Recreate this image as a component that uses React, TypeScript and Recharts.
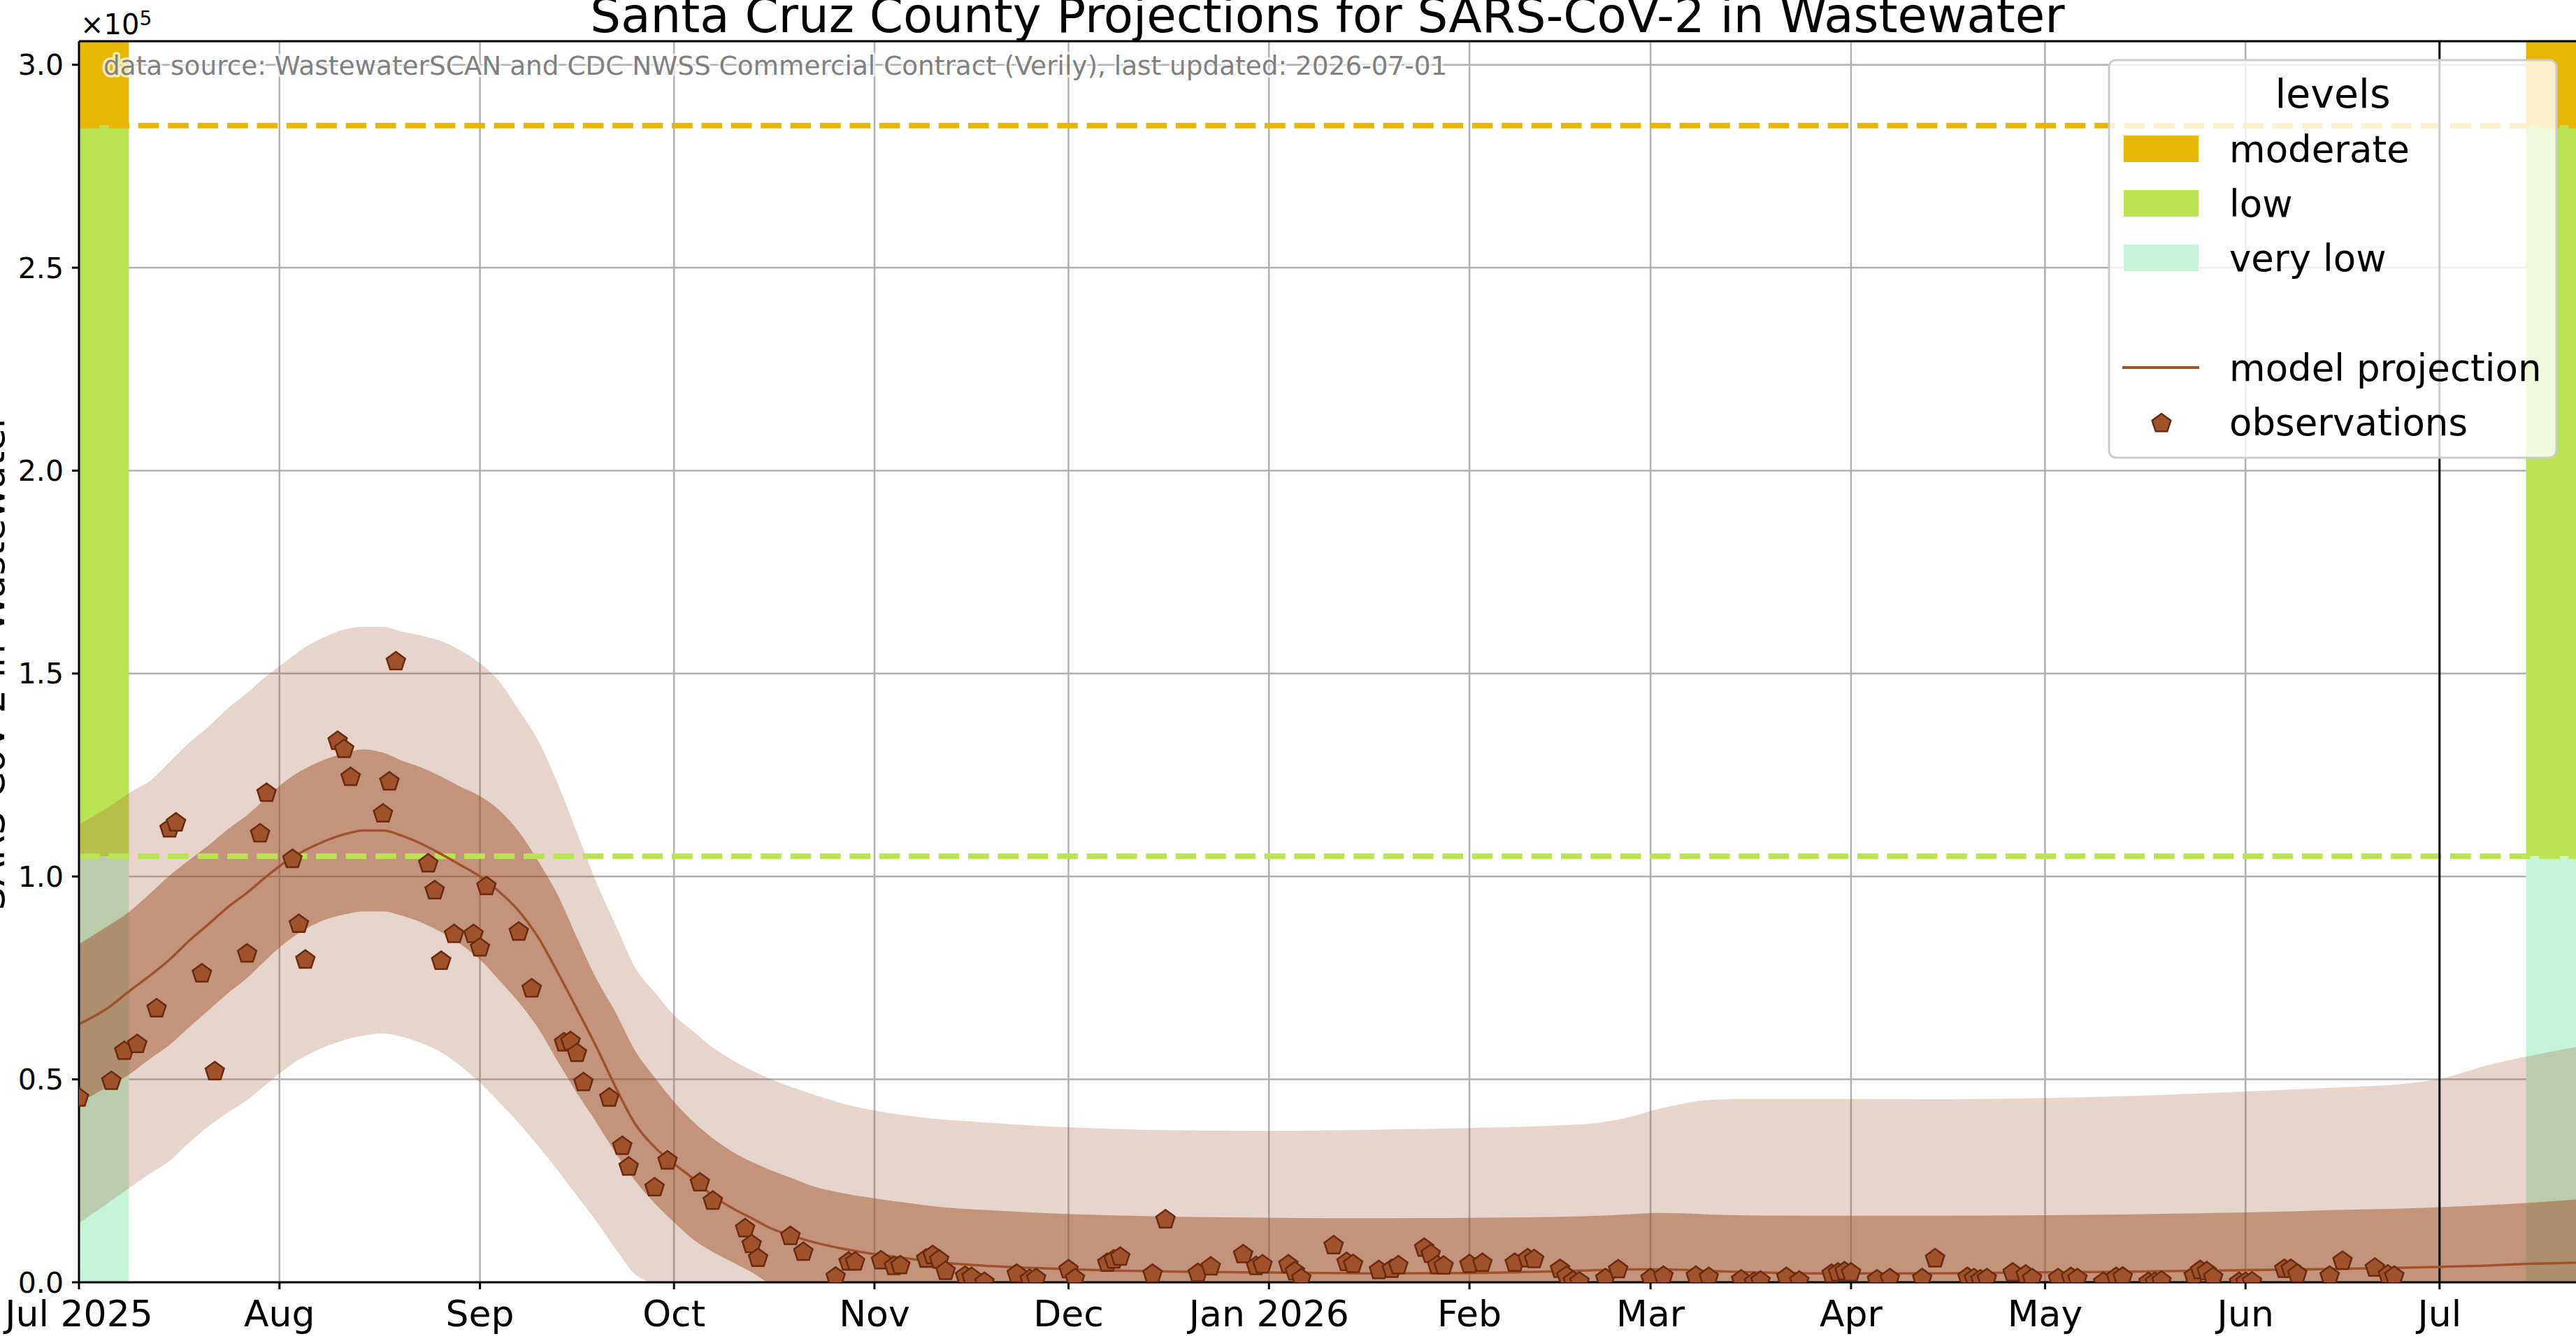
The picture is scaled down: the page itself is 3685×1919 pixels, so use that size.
import React from 'react';
import {
  ComposedChart,
  Area,
  Line,
  Scatter,
  XAxis,
  YAxis,
  CartesianGrid,
  ReferenceArea,
  ReferenceLine,
} from 'recharts';

const FONT = "'DejaVu Sans', sans-serif";
const W = 3685;
const H = 1919;

// ---- model projection (values in units of 10^5), x = days since 2025-07-01 ----
const modelDays = [
  0, 4, 8, 11, 14, 17, 20, 23, 26, 29, 32, 35, 38, 41, 44, 47, 50, 53, 56, 59, 62, 65, 68, 71, 74, 77, 80, 83, 86, 89,
  92, 95, 98, 101, 104, 107, 110, 114, 118, 122, 127, 133, 140, 150, 160, 172, 185, 200, 215, 228, 235, 240, 244, 248,
  252, 258, 270, 285, 300, 315, 335, 349, 360, 365, 372, 378, 386.1,
];
const median = [
  0.636, 0.671, 0.72, 0.756, 0.795, 0.841, 0.882, 0.924, 0.96, 1.0, 1.037, 1.065, 1.087, 1.104, 1.113, 1.113, 1.1, 1.08,
  1.055, 1.028, 1.0, 0.962, 0.915, 0.85, 0.764, 0.673, 0.58, 0.48, 0.39, 0.333, 0.292, 0.255, 0.213, 0.183, 0.158, 0.133,
  0.116, 0.097, 0.083, 0.072, 0.061, 0.049, 0.041, 0.034, 0.029, 0.026, 0.024, 0.022, 0.023, 0.027, 0.03, 0.032, 0.032,
  0.031, 0.028, 0.025, 0.022, 0.022, 0.024, 0.026, 0.03, 0.033, 0.036, 0.038, 0.041, 0.045, 0.048,
];
const lower50 = [
  0.443, 0.478, 0.515, 0.551, 0.585, 0.628, 0.67, 0.712, 0.75, 0.796, 0.838, 0.87, 0.893, 0.906, 0.914, 0.914, 0.903,
  0.886, 0.863, 0.833, 0.795, 0.744, 0.69, 0.626, 0.545, 0.466, 0.394, 0.318, 0.25, 0.195, 0.148, 0.105, 0.075, 0.05,
  0.025, 0, 0, 0, 0, 0, 0, 0, 0, 0, 0, 0, 0, 0, 0, 0, 0, 0, 0, 0, 0, 0, 0, 0, 0, 0, 0, 0, 0, 0, 0, 0, 0,
];
const upper50 = [
  0.833, 0.873, 0.916, 0.958, 1.002, 1.04, 1.076, 1.116, 1.151, 1.194, 1.236, 1.266, 1.288, 1.304, 1.313, 1.305, 1.285,
  1.268, 1.246, 1.221, 1.198, 1.163, 1.11, 1.038, 0.955, 0.849, 0.748, 0.664, 0.57, 0.505, 0.445, 0.395, 0.355, 0.322,
  0.297, 0.276, 0.258, 0.234, 0.22, 0.209, 0.198, 0.186, 0.178, 0.17, 0.165, 0.161, 0.159, 0.158, 0.159, 0.161, 0.164,
  0.168, 0.171, 0.17, 0.167, 0.165, 0.164, 0.164, 0.165, 0.167, 0.172, 0.178, 0.182, 0.185, 0.19, 0.195, 0.204,
];
const lower90 = [
  0.146, 0.19, 0.235, 0.268, 0.299, 0.344, 0.384, 0.418, 0.449, 0.488, 0.527, 0.558, 0.58, 0.597, 0.608, 0.613, 0.605,
  0.589, 0.567, 0.533, 0.492, 0.444, 0.392, 0.336, 0.276, 0.213, 0.15, 0.082, 0.02, 0, 0, 0, 0, 0, 0, 0, 0, 0, 0, 0, 0,
  0, 0, 0, 0, 0, 0, 0, 0, 0, 0, 0, 0, 0, 0, 0, 0, 0, 0, 0, 0, 0, 0, 0, 0, 0, 0,
];
const upper90 = [
  1.129, 1.165, 1.208, 1.236, 1.282, 1.329, 1.369, 1.414, 1.452, 1.494, 1.53, 1.565, 1.59, 1.608, 1.615, 1.615, 1.603,
  1.593, 1.58, 1.557, 1.525, 1.48, 1.41, 1.335, 1.23, 1.108, 0.985, 0.88, 0.775, 0.715, 0.658, 0.618, 0.578, 0.548,
  0.522, 0.5, 0.482, 0.46, 0.441, 0.426, 0.413, 0.402, 0.394, 0.384, 0.378, 0.374, 0.373, 0.376, 0.38, 0.386, 0.393,
  0.408, 0.426, 0.44, 0.449, 0.452, 0.452, 0.451, 0.453, 0.458, 0.47, 0.48, 0.49, 0.501, 0.533, 0.555, 0.58,
];

// ---- observations ----
const obsDays = [
  0, 5, 7, 9, 12, 14, 15, 19, 21, 26, 28, 29, 33, 34, 35, 40, 41, 42, 47, 48, 49, 54, 55, 56, 58, 61, 62, 63, 68, 70,
  75, 76, 77, 78, 82, 84, 85, 89, 91, 96, 98, 103, 104, 105, 110, 112, 117, 119, 120, 124, 126, 127, 131, 132, 133, 134,
  137, 138, 140, 145, 147, 148, 153, 154, 159, 160, 161, 166, 168, 173, 175, 180, 182, 183, 187, 188, 189, 194, 196, 197,
  201, 203, 204, 208, 209, 210, 211, 215, 217, 222, 224, 225, 229, 230, 231, 232, 236, 238, 243, 245, 250, 252, 257, 259,
  260, 264, 266, 271, 272, 273, 274, 278, 280, 285, 287, 292, 293, 294, 295, 299, 301, 302, 306, 308, 309, 313, 315, 316,
  320, 321, 322, 327, 328, 329, 330, 334, 335, 336, 341, 342, 343, 348, 350, 355, 357, 358,
];
const obsValues = [
  0.457, 0.498, 0.572, 0.589, 0.677, 1.12, 1.135, 0.763, 0.522, 0.812, 1.108, 1.208, 1.045, 0.885, 0.797, 1.336, 1.316,
  1.247, 1.157, 1.236, 1.532, 1.034, 0.968, 0.794, 0.86, 0.86, 0.827, 0.978, 0.866, 0.726, 0.593, 0.596, 0.567, 0.495,
  0.457, 0.338, 0.287, 0.236, 0.302, 0.248, 0.203, 0.135, 0.096, 0.062, 0.116, 0.077, 0.016, 0.053, 0.053, 0.056, 0.042,
  0.044, 0.06, 0.069, 0.058, 0.03, 0.018, 0.015, 0.003, 0.023, 0.01, 0.012, 0.034, 0.012, 0.05, 0.058, 0.065, 0.023,
  0.157, 0.025, 0.041, 0.071, 0.042, 0.046, 0.046, 0.029, 0.012, 0.093, 0.052, 0.047, 0.032, 0.035, 0.044, 0.087, 0.072,
  0.044, 0.043, 0.047, 0.05, 0.05, 0.061, 0.059, 0.035, 0.018, 0.006, 0.004, 0.012, 0.034, 0.012, 0.018, 0.018, 0.015,
  0.009, 0.003, 0.006, 0.015, 0.006, 0.023, 0.026, 0.029, 0.026, 0.009, 0.012, 0.012, 0.061, 0.015, 0.012, 0.009, 0.012,
  0.026, 0.021, 0.012, 0.012, 0.015, 0.012, 0.003, 0.015, 0.016, 0.003, 0.003, 0.006, 0.018, 0.032, 0.029, 0.015, 0.003,
  0.003, 0.004, 0.035, 0.035, 0.023, 0.018, 0.055, 0.038, 0.021, 0.018,
];

// ---- axes ----
const monthTicks = [0, 31, 62, 92, 123, 153, 184, 215, 243, 274, 304, 335, 365];
const monthLabels = ['Jul 2025', 'Aug', 'Sep', 'Oct', 'Nov', 'Dec', 'Jan 2026', 'Feb', 'Mar', 'Apr', 'May', 'Jun', 'Jul'];
const yTicks = [0, 0.5, 1.0, 1.5, 2.0, 2.5, 3.0];
const X_MAX = 386.1;
const Y_MAX = 3.058;
const TODAY = 365;

// ---- levels ----
const levelNames = ['moderate', 'low', 'very low'];
const levelColors = ['#E8B704', '#BBE453', '#C5F5D8'];
const levelLower = [2.85, 1.05, 0];
const levelUpper = [Y_MAX, 2.85, 1.05];
const thresholdValues = [2.85, 1.05];
const thresholdColors = ['#E8B704', '#BBE453'];
const BAND_W = 7.72;

const SIENNA = '#A0522D';
const EDGE = '#6B2A0E';

const modelData = modelDays.map((d, i) => ({
  day: d,
  median: median[i],
  band50: [lower50[i], upper50[i]],
  band90: [lower90[i], upper90[i]],
}));
const obsData = obsDays.map((d, i) => ({ day: d, value: obsValues[i] }));

function pentagonPoints(cx: number, cy: number, r: number) {
  const pts: string[] = [];
  for (let k = 0; k < 5; k++) {
    const a = ((-90 + k * 72) * Math.PI) / 180;
    pts.push(`${cx + r * Math.cos(a)},${cy + r * Math.sin(a)}`);
  }
  return pts.join(' ');
}

const Pentagon = (props: any) => {
  const { cx, cy } = props;
  if (cx == null || cy == null) return null;
  return <polygon points={pentagonPoints(cx, cy + 1.5, 14)} fill={SIENNA} stroke={EDGE} strokeWidth={2.5} />;
};

const Overlay = () => {
  const legendX = 3017;
  const legendY = 86;
  const patchX = 3038;
  const textX = 3189;
  const baselines = [232, 310, 388];
  return (
    <svg
      width={W}
      height={H}
      style={{ position: 'absolute', left: 0, top: 0, pointerEvents: 'none' }}
      fontFamily={FONT}
    >
      {/* top spine */}
      <line x1={113} y1={59} x2={W} y2={59} stroke="#000" strokeWidth={3} />
      {/* title */}
      <text x={1899} y={46} fontSize={69} textAnchor="middle" fill="#000">
        Santa Cruz County Projections for SARS-CoV-2 in Wastewater
      </text>
      {/* offset text */}
      <text x={115} y={49} fontSize={40} fill="#000">
        ×10
        <tspan fontSize={28} dy={-13}>
          5
        </tspan>
      </text>
      {/* y label */}
      <text transform="translate(6, 947) rotate(-90)" fontSize={53} textAnchor="middle" fill="#000">
        SARS-CoV-2 in Wastewater
      </text>
      {/* data source */}
      <text
        x={148}
        y={107}
        fontSize={37.4}
        fill="#808080"
        stroke="#ffffff"
        strokeOpacity={0.7}
        strokeWidth={7}
        strokeLinejoin="round"
        style={{ paintOrder: 'stroke' }}
      >
        data source: WastewaterSCAN and CDC NWSS Commercial Contract (Verily), last updated: 2026-07-01
      </text>
      {/* legend */}
      <rect
        x={legendX}
        y={legendY}
        width={640}
        height={569}
        rx={10}
        ry={10}
        fill="#ffffff"
        fillOpacity={0.8}
        stroke="#cccccc"
        strokeWidth={3}
      />
      <text x={3337} y={154} fontSize={57} textAnchor="middle" fill="#000">
        levels
      </text>
      {levelNames.map((n, i) => (
        <g key={n}>
          <rect x={patchX} y={baselines[i] - 38} width={107} height={38} fill={levelColors[i]} />
          <text x={textX} y={baselines[i]} fontSize={53} fill="#000">
            {n}
          </text>
        </g>
      ))}
      <line x1={3036} y1={526} x2={3146} y2={526} stroke={SIENNA} strokeWidth={4} />
      <text x={textX} y={545} fontSize={53} fill="#000">
        model projection
      </text>
      <polygon points={pentagonPoints(3092, 606, 14)} fill={SIENNA} stroke={EDGE} strokeWidth={2.5} />
      <text x={textX} y={623} fontSize={53} fill="#000">
        observations
      </text>
    </svg>
  );
};

export default function App() {
  return (
    <div style={{ position: 'absolute', left: 0, top: 0, width: W, height: H, background: '#fff' }}>
      <ComposedChart width={W} height={H} data={modelData} margin={{ top: 59, right: 0, bottom: 0, left: 0 }}>
        <CartesianGrid stroke="#b0b0b0" strokeWidth={2.5} />
        <XAxis
          type="number"
          dataKey="day"
          domain={[0, X_MAX]}
          allowDataOverflow
          ticks={monthTicks}
          interval={0}
          tickFormatter={(v: number) => monthLabels[monthTicks.indexOf(v)] ?? ''}
          height={84}
          tickSize={10}
          tickMargin={16}
          tick={{ fontSize: 52, fill: '#000', fontFamily: FONT }}
          axisLine={{ stroke: '#000', strokeWidth: 3 }}
          tickLine={{ stroke: '#000', strokeWidth: 3 }}
        />
        <YAxis
          type="number"
          domain={[0, Y_MAX]}
          allowDataOverflow
          ticks={yTicks}
          interval={0}
          tickFormatter={(v: number) => v.toFixed(1)}
          width={113}
          tickSize={10}
          tickMargin={12}
          tick={{ fontSize: 41, fill: '#000', fontFamily: FONT }}
          axisLine={{ stroke: '#000', strokeWidth: 3 }}
          tickLine={{ stroke: '#000', strokeWidth: 3 }}
        />
        {levelNames.map((n, i) => (
          <ReferenceArea
            key={'L' + n}
            x1={0}
            x2={BAND_W}
            y1={levelLower[i]}
            y2={levelUpper[i]}
            fill={levelColors[i]}
            fillOpacity={1}
            stroke="none"
            zIndex={50}
          />
        ))}
        {levelNames.map((n, i) => (
          <ReferenceArea
            key={'R' + n}
            x1={X_MAX - BAND_W}
            x2={X_MAX}
            y1={levelLower[i]}
            y2={levelUpper[i]}
            fill={levelColors[i]}
            fillOpacity={1}
            stroke="none"
            zIndex={50}
          />
        ))}
        <Area
          type="monotone"
          dataKey="band90"
          fill={SIENNA}
          fillOpacity={0.25}
          stroke="none"
          isAnimationActive={false}
          dot={false}
          activeDot={false}
          zIndex={100}
        />
        <Area
          type="monotone"
          dataKey="band50"
          fill={SIENNA}
          fillOpacity={0.5}
          stroke="none"
          isAnimationActive={false}
          dot={false}
          activeDot={false}
          zIndex={101}
        />
        {thresholdValues.map((v, i) => (
          <ReferenceLine
            key={'T' + v}
            y={v}
            stroke={thresholdColors[i]}
            strokeWidth={8}
            strokeDasharray="29.6 12.8"
            zIndex={450}
          />
        ))}
        <ReferenceLine x={TODAY} stroke="#000" strokeWidth={3} zIndex={455} />
        <Line
          type="monotone"
          dataKey="median"
          stroke={SIENNA}
          strokeWidth={3.5}
          dot={false}
          activeDot={false}
          isAnimationActive={false}
          zIndex={460}
        />
        <Scatter data={obsData} dataKey="value" shape={Pentagon} isAnimationActive={false} zIndex={600} />
      </ComposedChart>
      <Overlay />
    </div>
  );
}
